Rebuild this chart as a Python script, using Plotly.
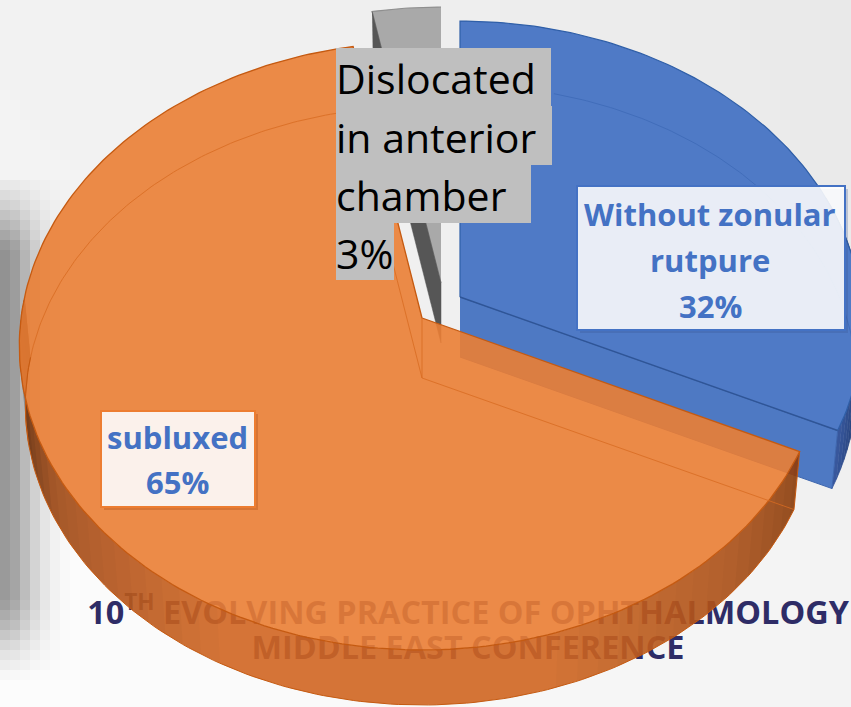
import numpy as np
import plotly.graph_objects as go

# ---- chart data ----
categories = ["Without zonular rutpure", "Dislocated in anterior chamber", "subluxed"]
shares = [32, 3, 65]
label_lines = [["Without zonular", "rutpure"], ["Dislocated", "in anterior", "chamber"], ["subluxed"]]
backdrop_lines = ["10<sup>TH</sup> EVOLVING PRACTICE OF OPHTHALMOLOGY", "MIDDLE EAST CONFERENCE"]

# ---- 3D projection of the pie ----
W, H = 851, 707
RX, RY, PERSP = 401.0, 301.4, 0.0921
DEPTH, BOTTOM_SCALE = 60.0, 0.985
apex = {"blue": (460, 297), "orange": (422, 318), "gray": (441, 283)}
ORANGE_OPACITY = 0.9


def project(theta, centre, scale=1.0, drop=0.0):
    t = np.radians(theta)
    w = 1 + PERSP * np.cos(t)
    return (centre[0] + scale * RX * np.sin(t) / w,
            centre[1] - scale * RY * np.cos(t) / w + drop)


def arc(a, b, centre, scale=1.0, drop=0.0, n=120):
    return project(np.linspace(a, b, n), centre, scale, drop)


def poly(fig, x, y, fill, line=None, lw=1.0, opacity=1.0):
    fig.add_trace(go.Scatter(x=list(x), y=list(y), mode="lines", fill="toself", fillcolor=fill,
                             line=dict(color=line or fill, width=lw), opacity=opacity,
                             hoverinfo="skip", showlegend=False))


def stroke(fig, x, y, color, lw=1.0, opacity=1.0):
    fig.add_trace(go.Scatter(x=list(x), y=list(y), mode="lines", line=dict(color=color, width=lw),
                             opacity=opacity, hoverinfo="skip", showlegend=False))


def mix(stops, t):
    angles = [s[0] for s in stops]
    rgb = [np.interp(t, angles, [s[1][i] for s in stops]) for i in range(3)]
    return "rgb(%d,%d,%d)" % tuple(rgb)


def wall_outline(a, b, centre, n=60):
    x0, y0 = arc(a, b, centre, n=n)
    x1, y1 = arc(b, a, centre, BOTTOM_SCALE, DEPTH, n=n)
    return np.r_[x0, x1], np.r_[y0, y1]


def side_wall(fig, a, b, centre, stops, n=70):
    edges = np.linspace(a, b, n + 1)
    for t0, t1 in zip(edges[:-1], edges[1:]):
        x, y = wall_outline(t0, t1, centre, n=4)
        colour = mix(stops, (t0 + t1) / 2)
        poly(fig, x, y, colour, colour, 0.8)


def nested_shade(fig, angles, darkness, fixed_end, centre):
    """Darken a wall towards fixed_end with stacked translucent layers, so no seams appear."""
    previous = 0.0
    for angle, d in zip(angles, darkness):
        alpha = 1 - (1 - d) / (1 - previous)
        previous = d
        if alpha <= 0:
            continue
        x, y = wall_outline(min(angle, fixed_end), max(angle, fixed_end), centre)
        fig.add_trace(go.Scatter(x=list(x), y=list(y), mode="lines", fill="toself",
                                 fillcolor=f"rgba(20,12,8,{alpha:.4f})", line=dict(width=0),
                                 hoverinfo="skip", showlegend=False))


# slice sweep angles from the shares, clockwise from 12 o'clock
blue_end = shares[0] * 3.6
orange_end = blue_end + shares[2] * 3.6
gray_end = 360.0
WALL_END = 274.0

fig = go.Figure()

# ---- background with blurred shadow at the left ----
cell = 10
xs = np.arange(cell / 2, W + cell, cell)
ys = np.arange(cell / 2, H + cell, cell)
shadow_x_stops = ([0, 6, 16, 26, 36, 46, 58, 70], [85, 100, 85, 60, 38, 20, 6, 0])
shadow_y_stops = ([175, 205, 250, 600, 625, 650, 680], [0, 0.35, 1, 1, 0.7, 0.3, 0])
base_y = np.interp(ys, [0, 350, 560, 707], [238, 240, 248, 248])
base_x = np.interp(xs, [0, 300, 851], [4, 2, -5])
shade_y = np.interp(ys, *shadow_y_stops)
shade_x = np.interp(xs, *shadow_x_stops)
z = base_y[:, None] + base_x[None, :] - shade_y[:, None] * shade_x[None, :]
fig.add_trace(go.Heatmap(x=xs, y=ys, z=z, zmin=0, zmax=255, showscale=False, hoverinfo="skip",
                         colorscale=[[0, "rgb(0,0,0)"], [1, "rgb(255,255,255)"]]))

# ---- conference text behind the translucent pie ----
fig.add_trace(go.Scatter(x=[468, 468], y=[616, 651], mode="text", text=backdrop_lines,
                         textposition="middle center", hoverinfo="skip", showlegend=False,
                         textfont=dict(family="Open Sans", size=32.4, color="#2E2C66",
                                       weight="bold")))

# ---- gray slice ----
c = apex["gray"]
xa, ya = arc(orange_end, gray_end, c, n=20)
poly(fig, np.r_[c[0], xa], np.r_[c[1], ya], "#A9A9A9", "#8F8F8F", 1.2)
xl, yl = project(orange_end, c)
xb, yb = project(orange_end, c, BOTTOM_SCALE, DEPTH)
poly(fig, [xl, c[0], c[0], xb], [yl, c[1], c[1] + DEPTH, yb], "#565656", "#565656", 0.5)

# ---- blue slice ----
c = apex["blue"]
blue_rim = [(70, (24, 42, 84)), (100, (31, 56, 108)), (blue_end, (58, 90, 160))]
side_wall(fig, 70, blue_end, c, blue_rim, n=24)
xa, ya = arc(0, blue_end, c)
xe, ye = project(blue_end, c)
xb, yb = project(blue_end, c, BOTTOM_SCALE, DEPTH)
poly(fig, [c[0], xe, xb, c[0]], [c[1], ye, yb, c[1] + DEPTH], "#4E79C3", "#3E66AE", 1.0)
poly(fig, np.r_[c[0], xa], np.r_[c[1], ya], "#4F7AC6", "#2F5FA8", 1.2)
xi, yi = arc(15, 95, c, BOTTOM_SCALE, DEPTH)
stroke(fig, xi, yi, "#416DBA", 1.0)
stroke(fig, [c[0], xe], [c[1], ye], "#2F5597", 1.5)

# ---- orange slice ----
c = apex["orange"]
xr, yr = wall_outline(blue_end, WALL_END, c, n=160)
poly(fig, xr, yr, "rgb(209,102,34)", "rgb(209,102,34)", 0.1, ORANGE_OPACITY)
left_angles = np.arange(205, 272, 3.0)
left_dark = np.interp(left_angles, [205, 240, 258, 270], [0.0, 0.2, 0.5, 0.78])
nested_shade(fig, left_angles, left_dark, WALL_END, c)
right_angles = np.arange(165, blue_end, -3.0)
right_dark = np.interp(right_angles, [blue_end, 135, 165], [0.32, 0.15, 0.0])
nested_shade(fig, right_angles, right_dark, blue_end, c)

xa, ya = arc(blue_end, orange_end, c, n=200)
poly(fig, np.r_[c[0], xa, c[0]], np.r_[c[1], ya, c[1]], "#EB7F35", None, 0.1, ORANGE_OPACITY)
stroke(fig, np.r_[c[0], xa, c[0]], np.r_[c[1], ya, c[1]], "#C55A11", 1.3)
# bottom face and cut edges seen through the translucent top
xi, yi = arc(258, orange_end, c, BOTTOM_SCALE, DEPTH)
stroke(fig, xi, yi, "#D96C22", 1.0, 0.8)
xe, ye = project(blue_end, c, BOTTOM_SCALE, DEPTH)
xs2, ys2 = project(orange_end, c, BOTTOM_SCALE, DEPTH)
stroke(fig, [xs2, c[0], xe], [ys2, c[1] + DEPTH, ye], "#D96C22", 1.0, 0.8)
stroke(fig, [c[0], c[0]], [c[1], c[1] + DEPTH], "#D96C22", 1.0, 0.8)
xa2, ya2 = project(blue_end, c)
stroke(fig, [xa2, xe], [ya2, ye], "#C55A11", 1.0)
xo, yo = arc(blue_end, WALL_END, c, BOTTOM_SCALE, DEPTH, n=160)
stroke(fig, xo, yo, "#C55A11", 1.0)


# ---- labels ----
annotations = []
shapes = []


def text_line(text, x, y, size, color, bold=True, xanchor="center"):
    annotations.append(dict(x=x, y=y, xref="x", yref="y", text=text, showarrow=False, xanchor=xanchor,
                            yanchor="middle", font=dict(family="Open Sans", size=size, color=color,
                                                        weight="bold" if bold else "normal")))


def box(x0, y0, x1, y1, fill, border, shadow=None):
    if shadow:
        shapes.append(dict(type="rect", xref="x", yref="y", x0=x0 + 3, y0=y0 + 3, x1=x1 + 3, y1=y1 + 3,
                           fillcolor=shadow, line=dict(width=0), layer="above"))
    shapes.append(dict(type="rect", xref="x", yref="y", x0=x0, y0=y0, x1=x1, y1=y1, fillcolor=fill,
                       line=dict(color=border, width=2), layer="above"))


BLUE_TEXT = "#4472C4"
box(577, 186, 845, 330, "rgba(255,255,255,0.88)", "#4472C4", "rgba(50,80,140,0.25)")
text_line(label_lines[0][0], 710, 214, 31, BLUE_TEXT)
text_line(label_lines[0][1], 710, 260, 31, BLUE_TEXT)
text_line(f"{shares[0]}%", 710, 306, 31, BLUE_TEXT)

box(101, 411, 255, 507, "#FBF1EB", "#ED7D31", "rgba(190,90,30,0.45)")
text_line(label_lines[2][0], 177, 437, 31, BLUE_TEXT)
text_line(f"{shares[2]}%", 177, 482, 31, BLUE_TEXT)

GRAY_BOX = "#BFBFBF"
rows = label_lines[1] + [f"{shares[1]}%"]
row_right = [551, 552, 531, 394]
row_top = [48, 106, 165, 223]
row_bottom = [106, 165, 223, 280]
for text, right, top, bottom in zip(rows, row_right, row_top, row_bottom):
    shapes.append(dict(type="rect", xref="x", yref="y", x0=336, x1=right, y0=top, y1=bottom,
                       fillcolor=GRAY_BOX, line=dict(width=0), layer="above"))
    text_line(text, 334, (top + bottom) / 2 + 1, 41, "#000000", bold=False, xanchor="left")

fig.update_layout(
    width=W, height=H, margin=dict(l=0, r=0, t=0, b=0), showlegend=False,
    paper_bgcolor="#F0F0F0", plot_bgcolor="#F0F0F0", annotations=annotations, shapes=shapes,
    xaxis=dict(range=[0, W], visible=False, fixedrange=True),
    yaxis=dict(range=[H, 0], visible=False, fixedrange=True),
)
fig.write_html("out.html", config={"displayModeBar": False},
               post_script="document.body.style.margin='0';document.body.style.overflow='hidden';")
